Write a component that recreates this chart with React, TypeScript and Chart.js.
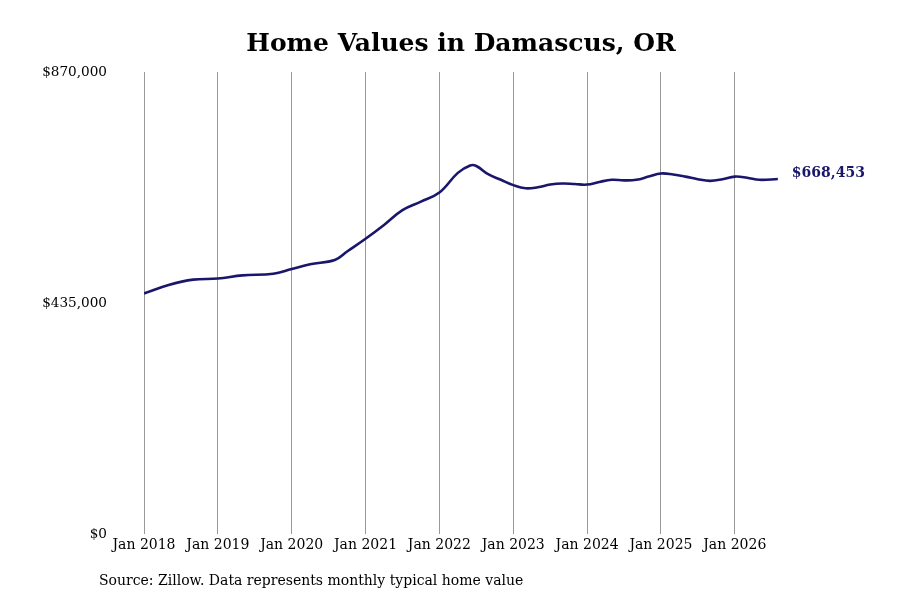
import React, { useEffect, useRef } from "react";
import { Chart, registerables } from "chart.js";

Chart.register(...registerables);

// months counted from Jan 2018
const months = [0, 4, 8, 12, 16, 21, 24, 27, 31, 33, 36, 39, 42, 45, 48, 51, 53, 54, 56, 58, 60, 62, 64, 66, 68, 70, 72, 74, 76, 78, 80, 82, 84, 86, 88, 90, 92, 94, 96, 98, 100, 103];
const homeValues = [
  453000, 469000, 479000, 481000, 487000, 490000, 499000, 508000, 516000, 532000,
  556000, 582000, 610000, 626000, 643000, 680000, 694000, 693000, 677000,
  667000, 657000, 651000, 653000, 658000, 660000, 659000, 658000, 663000, 667000,
  666000, 667000, 673000, 679000, 677000, 673000, 668000, 665000, 668000, 673000,
  671000, 667000, 668453,
];
const yearTicks = [0, 12, 24, 36, 48, 60, 72, 84, 96];
const yearLabels = ["Jan 2018", "Jan 2019", "Jan 2020", "Jan 2021", "Jan 2022", "Jan 2023", "Jan 2024", "Jan 2025", "Jan 2026"];
const valueTicks = [0, 435000, 870000];

const LINE = "#19166b";
const FONT = "'DejaVu Serif', serif";

const money = (v: number) => "$" + Math.round(v).toLocaleString("en-US");

const extras = {
  id: "extras",
  afterDraw(chart: any) {
    const { ctx } = chart;
    const meta = chart.getDatasetMeta(0);
    const last = meta.data[meta.data.length - 1];
    ctx.save();
    ctx.textBaseline = "middle";
    // title
    ctx.fillStyle = "#000";
    ctx.textAlign = "center";
    ctx.font = `bold 25px ${FONT}`;
    ctx.fillText("Home Values in Damascus, OR", 461, 44);
    // end label
    ctx.textAlign = "left";
    ctx.fillStyle = LINE;
    ctx.font = `bold 14px ${FONT}`;
    ctx.fillText(money(homeValues[homeValues.length - 1]), last.x + 14, last.y - 6);
    // source note
    ctx.fillStyle = "#000";
    ctx.font = `14px ${FONT}`;
    ctx.fillText("Source: Zillow. Data represents monthly typical home value", 99, 581);
    ctx.restore();
  },
};

export default function App() {
  const canvasRef = useRef<HTMLCanvasElement | null>(null);

  useEffect(() => {
    document.body.style.margin = "0";
    if (!canvasRef.current) return;
    const chart = new Chart(canvasRef.current, {
      type: "line",
      data: {
        datasets: [
          {
            data: months.map((m, i) => ({ x: m, y: homeValues[i] })),
            borderColor: LINE,
            borderWidth: 2.6,
            pointRadius: 0,
            tension: 0.4,
            fill: false,
          },
        ],
      },
      options: {
        responsive: false,
        animation: false,
        layout: { padding: { left: 42, right: 116, top: 72, bottom: 0 } },
        plugins: {
          legend: { display: false },
          tooltip: { enabled: false },
          title: { display: false },
        },
        scales: {
          x: {
            type: "linear",
            min: 0,
            max: 104,
            afterBuildTicks: (s: any) => {
              s.ticks = yearTicks.map((v) => ({ value: v }));
            },
            afterFit: (s: any) => {
              s.height = 66;
            },
            grid: { display: true, color: "#999", lineWidth: 1, drawTicks: false },
            border: { display: false },
            ticks: {
              padding: 3,
              color: "#000",
              font: { family: FONT, size: 14 },
              maxRotation: 0,
              autoSkip: false,
              callback: (v: any) => yearLabels[yearTicks.indexOf(Number(v))] ?? "",
            },
          },
          y: {
            min: 0,
            max: 870000,
            afterBuildTicks: (s: any) => {
              s.ticks = valueTicks.map((v) => ({ value: v }));
            },
            afterFit: (s: any) => {
              s.width = 102;
            },
            grid: { display: false, drawTicks: false },
            border: { display: false },
            ticks: {
              padding: 37,
              color: "#000",
              font: { family: FONT, size: 13.6 },
              callback: (v: any) => money(Number(v)),
            },
          },
        },
      },
      plugins: [extras],
    });
    return () => chart.destroy();
  }, []);

  return (
    <div style={{ width: 900, height: 600, background: "#fff" }}>
      <canvas ref={canvasRef} width={900} height={600} />
    </div>
  );
}
